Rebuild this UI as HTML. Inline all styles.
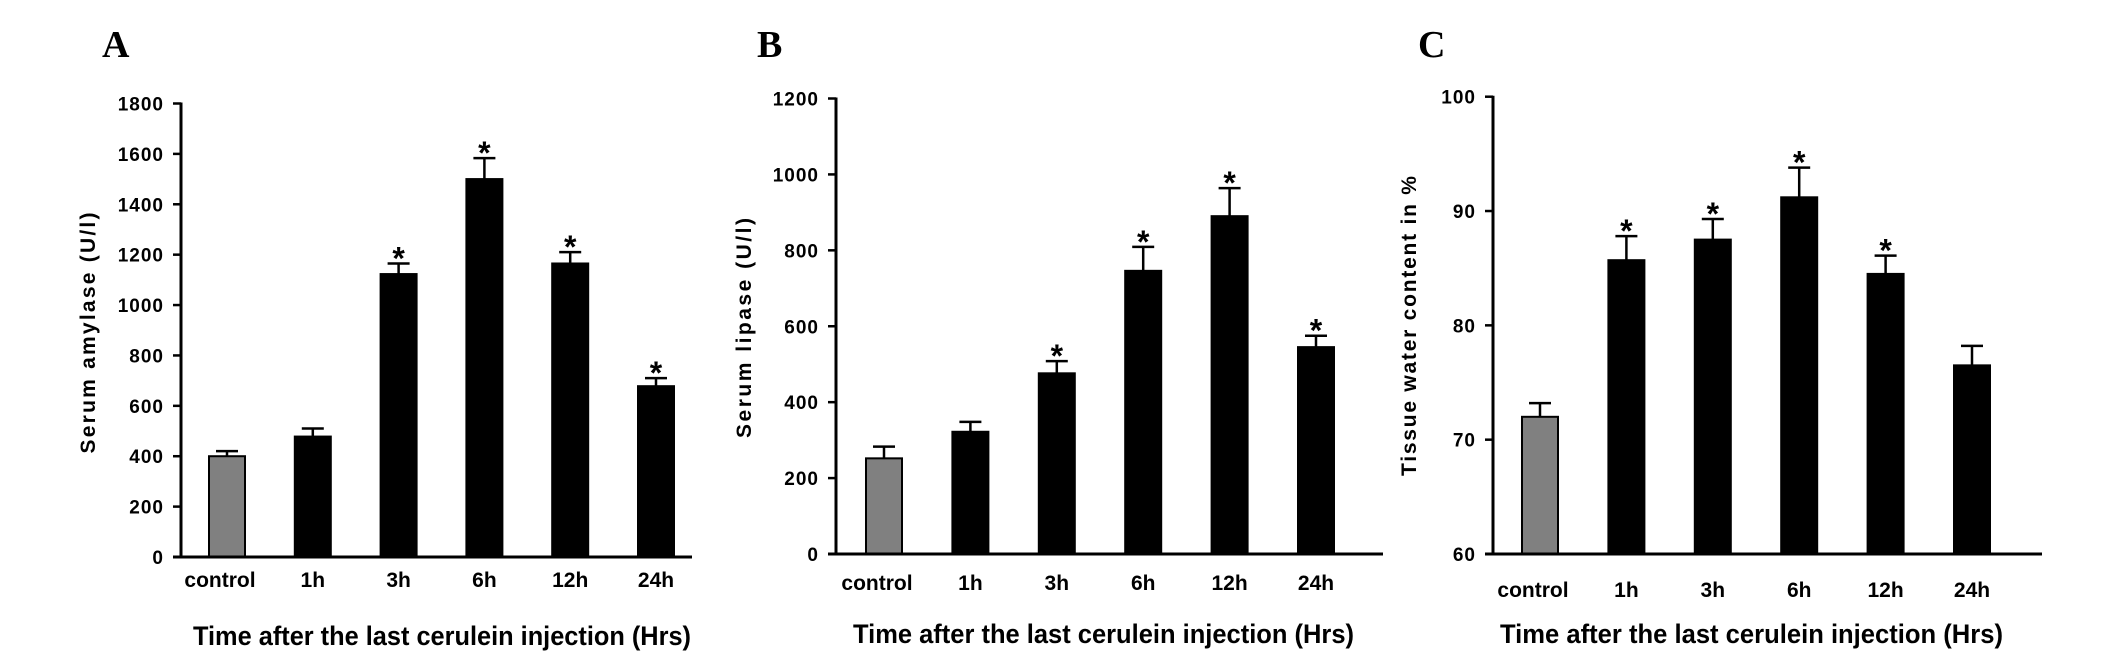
<!DOCTYPE html>
<html><head><meta charset="utf-8"><style>
html,body{margin:0;padding:0;background:#fff;}
svg{display:block;}
text{font-family:"Liberation Sans",Arial,sans-serif;fill:#000;}
.pl{font-family:"Liberation Serif","Times New Roman",serif;font-weight:bold;font-size:38px;}
.tk{font-weight:bold;font-size:19px;letter-spacing:1px;}
.cat{font-family:"Liberation Sans Narrow","Liberation Sans",sans-serif;font-weight:bold;font-size:21px;}
.xt{font-family:"Liberation Sans Narrow","Liberation Sans",sans-serif;font-weight:bold;font-size:27px;}
.yt{font-weight:bold;font-size:21px;}
.st{font-weight:bold;font-size:32px;}
</style></head><body>
<svg id="fig" width="2126" height="665" viewBox="0 0 2126 665" xmlns="http://www.w3.org/2000/svg">
<text class="pl" x="102" y="57">A</text>
<text class="pl" x="757" y="57">B</text>
<text class="pl" x="1418" y="57">C</text>
</svg>
<script>
const categories = ["control","1h","3h","6h","12h","24h"];
const amylaseValues = [400,478,1123,1500,1165,678];
const amylaseErrors = [20,32,42,83,45,32];
const amylaseSig = [false,false,true,true,true,true];
const amylaseTicks = [0,200,400,600,800,1000,1200,1400,1600,1800];
const lipaseValues = [252,322,476,746,890,545];
const lipaseErrors = [31,26,32,63,74,30];
const lipaseSig = [false,false,true,true,true,true];
const lipaseTicks = [0,200,400,600,800,1000,1200];
const waterValues = [72,85.7,87.5,91.2,84.5,76.5];
const waterErrors = [1.2,2.1,1.8,2.6,1.6,1.7];
const waterSig = [false,true,true,true,true,false];
const waterTicks = [60,70,80,90,100];

const NS = "http://www.w3.org/2000/svg";
const svg = document.getElementById('fig');
function mk(tag, attrs, parent, txt){
  const e = document.createElementNS(NS, tag);
  for (const k in attrs) e.setAttribute(k, attrs[k]);
  if (txt !== undefined) e.textContent = txt;
  (parent||svg).appendChild(e);
  return e;
}

function panel(cfg){
  const g = mk('g', {});
  
  
  const yScale = v => cfg.y0 - (v - cfg.vmin) * (cfg.y0 - cfg.ytop) / (cfg.vmax - cfg.vmin);
  const xCenter = i => cfg.x0 + i * cfg.step;
  cfg.values.forEach((v, i) => {
    const cx = xCenter(i), w = 36;
    const top = yScale(v), et = yScale(v + cfg.errors[i]);
    const eb = mk('line', {x1:cx, x2:cx, y1:top, y2:et, stroke:'#000','stroke-width':2.5}, g);
    
    
    const cap = mk('line', {x1:cx-11, x2:cx+11, y1:et, y2:et, stroke:'#000','stroke-width':2.5}, g);
    
    
    const r = mk('rect', {x:cx-w/2, y:top, width:w, height:cfg.y0-top, fill: i===0?'#808080':'#000', stroke:'#000','stroke-width':2}, g);
    
    
    if (cfg.sig[i]) {
      const s = mk('text', {x:cx, y:et+6, 'text-anchor':'middle', class:'st'}, g, '*');
      
      
    }
    const c = mk('text', {x:cx-(i===0?7:0), y:cfg.catY, 'text-anchor':'middle', class:'cat'}, g, categories[i]);
    
    
  });
  const ya = mk('line', {x1:cfg.ax, x2:cfg.ax, y1:cfg.ytop-1, y2:cfg.y0+1.5, stroke:'#000','stroke-width':3}, g);
  
  
  const xa = mk('line', {x1:cfg.ax-8, x2:cfg.xend, y1:cfg.y0, y2:cfg.y0, stroke:'#000','stroke-width':3}, g);
  
  
  cfg.ticks.forEach(t => {
    const y = yScale(t);
    const tm = mk('line', {x1:cfg.ax-8, x2:cfg.ax, y1:y, y2:y, stroke:'#000','stroke-width':2.5}, g);
    
    
    const tl = mk('text', {x:cfg.ax-17, y:y+7, 'text-anchor':'end', class:'tk'}, g, String(t));
    
    
  });
  const yt = mk('text', {x:0, y:0, 'text-anchor':'middle', class:'yt', textLength:cfg.ytLen, lengthAdjust:'spacing', transform:'translate('+(cfg.ytX)+','+cfg.ytY+') rotate(-90)', 'xml:space':'preserve'}, g, cfg.ytitle);
  
  
  const xt = mk('text', {x:cfg.xtX, y:cfg.xtY, class:'xt', textLength:cfg.xtLen, lengthAdjust:'spacingAndGlyphs'}, g, 'Time after the last cerulein injection (Hrs)');
  
  
}

panel({name:'panel-a-amylase', values:amylaseValues, errors:amylaseErrors, sig:amylaseSig, ticks:amylaseTicks,
  vmin:0, vmax:1800, y0:557, ytop:103.5, ax:181, xend:692, x0:227, step:85.8, catY:587,
  ytitle:'Serum  amylase (U/l)', ytLen:241, ytX:95, ytY:333, xtX:193, xtY:645, xtLen:498});
panel({name:'panel-b-lipase', values:lipaseValues, errors:lipaseErrors, sig:lipaseSig, ticks:lipaseTicks,
  vmin:0, vmax:1200, y0:554, ytop:98.5, ax:836, xend:1383, x0:884, step:86.4, catY:590,
  ytitle:'Serum  lipase (U/l)', ytLen:220, ytX:751, ytY:328, xtX:853, xtY:643, xtLen:501});
panel({name:'panel-c-water', values:waterValues, errors:waterErrors, sig:waterSig, ticks:waterTicks,
  vmin:60, vmax:100, y0:554, ytop:96.7, ax:1493, xend:2042, x0:1540, step:86.4, catY:597,
  ytitle:'Tissue water content in %', ytLen:300, ytX:1416, ytY:326, xtX:1500, xtY:643, xtLen:503});
</script>
</body></html>
